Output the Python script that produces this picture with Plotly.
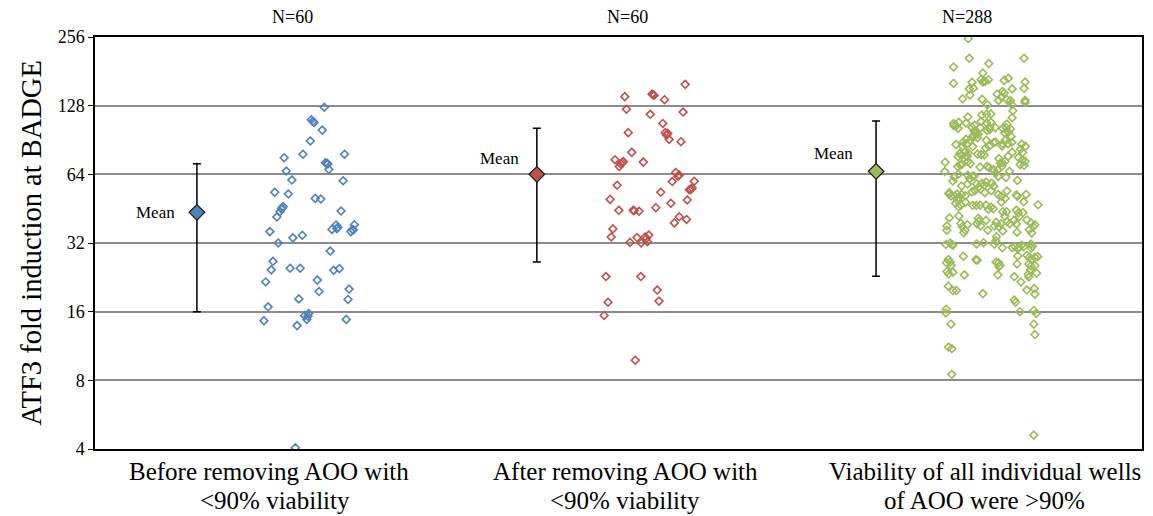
import math
import plotly.graph_objects as go

cat_line1 = ["Before removing AOO with", "After removing AOO with", "Viability of all individual wells"]
cat_line2 = ["<90% viability", "<90% viability", "of AOO were >90%"]
n_labels = ["N=60", "N=60", "N=288"]
tick_vals = [4, 8, 16, 32, 64, 128, 256]
tick_text = ["4", "8", "16", "32", "64", "128", "256"]

# means and error bar ends (fold induction)
means = [43.6, 64.0, 66.0]
upper = [71.2, 102.0, 109.6]
lower = [16.0, 26.4, 22.9]

# individual wells: jitter position within category, fold induction
g1_pos = [0.657,0.620,0.628,0.651,0.617,0.542,0.596,0.715,0.660,0.665,0.670,0.548,0.564,0.711,0.515,
          0.554,0.631,0.647,0.705,0.539,0.534,0.530,0.521,0.501,0.567,0.594,0.679,0.691,0.696,0.733,
          0.738,0.743,0.525,0.674,0.510,0.505,0.559,0.588,0.684,0.700,0.489,0.637,0.642,0.728,0.725,
          0.584,0.496,0.484,0.579,0.601,0.612,0.607,0.720,0.574,0.667,0.693,0.740,0.536,0.610,0.624]
g1_val = [126,111,108,100,89.6,75.7,78.4,78.4,72.0,71.5,67.3,66.2,60.4,60.0,53.4,
          52.5,50.2,49.9,44.2,46.2,45.1,43.9,41.6,35.9,33.7,34.6,36.7,38.4,37.5,35.9,
          36.7,38.5,32.0,29.5,26.6,24.4,24.8,24.8,24.3,24.7,21.6,22.0,19.6,20.1,18.1,
          18.2,16.8,14.6,13.9,15.4,15.7,14.8,14.8,4.05,71,37,36.5,45.5,15.3,109]

g2_pos = [0.691,0.518,0.596,0.602,0.632,0.523,0.591,0.685,0.627,0.634,0.641,0.645,0.528,0.679,0.538,
          0.490,0.514,0.507,0.502,0.571,0.664,0.670,0.717,0.654,0.496,0.711,0.703,0.621,0.476,0.697,
          0.650,0.607,0.501,0.542,0.559,0.674,0.695,0.660,0.484,0.479,0.553,0.576,0.587,0.583,0.565,
          0.533,0.464,0.564,0.611,0.470,0.616,0.459,0.548,0.599,0.638,0.510,0.674,0.707,0.580,0.545]
g2_val = [158.7,140.2,144,142,136,123.4,117.3,120,107,97.5,96.8,91.1,97.5,89,79.9,
          74.2,72.8,71,69.2,72.4,65.2,62.8,59.7,59.5,57.3,55.7,54.8,53.4,49.7,49.4,
          47.8,45.7,44.5,44.5,44.1,41.7,40.6,39.2,36.9,34,33.8,34,34.7,32.4,32,
          32.2,22.8,22.8,19.9,17.6,17.8,15.4,9.8,143,95,72,63.5,55,33.5,44.3]

g3_pos = [0.502,0.505,0.662,0.460,0.561,0.460,0.544,0.513,0.505,0.517,0.539,0.550,0.560,0.544,0.605,
          0.617,0.665,0.662,0.628,0.507,0.486,0.542,0.585,0.600,0.605,0.589,0.597,0.613,0.623,0.627,
          0.665,0.665,0.557,0.630,0.628,0.541,0.555,0.567,0.501,0.539,0.555,0.567,0.460,0.468,0.475,
          0.496,0.513,0.537,0.562,0.613,0.611,0.623,0.580,0.473,0.461,0.519,0.523,0.513,0.519,0.556,
          0.564,0.601,0.607,0.617,0.625,0.496,0.488,0.508,0.529,0.554,0.562,0.552,0.580,0.601,0.608,
          0.616,0.627,0.655,0.666,0.467,0.486,0.497,0.515,0.599,0.652,0.658,0.478,0.473,0.483,0.493,
          0.502,0.499,0.529,0.539,0.548,0.616,0.628,0.646,0.657,0.651,0.662,0.665,0.436,0.435,0.479,
          0.472,0.484,0.501,0.508,0.536,0.556,0.562,0.574,0.581,0.587,0.598,0.594,0.600,0.608,0.462,
          0.458,0.474,0.501,0.506,0.514,0.519,0.588,0.643,0.483,0.526,0.541,0.531,0.553,0.549,0.569,
          0.575,0.613,0.448,0.453,0.447,0.464,0.475,0.470,0.483,0.494,0.513,0.521,0.537,0.550,0.568,
          0.588,0.597,0.608,0.643,0.668,0.472,0.466,0.474,0.481,0.494,0.515,0.525,0.536,0.553,0.567,
          0.574,0.597,0.661,0.702,0.601,0.612,0.607,0.640,0.646,0.648,0.659,0.448,0.531,0.527,0.532,
          0.538,0.553,0.441,0.441,0.481,0.485,0.493,0.489,0.582,0.577,0.590,0.596,0.613,0.621,0.633,
          0.640,0.642,0.670,0.682,0.688,0.677,0.684,0.693,0.558,0.601,0.583,0.581,0.438,0.455,0.450,
          0.526,0.546,0.577,0.628,0.636,0.648,0.661,0.686,0.458,0.644,0.655,0.682,0.682,0.488,0.524,
          0.528,0.644,0.670,0.677,0.684,0.693,0.701,0.445,0.440,0.450,0.453,0.582,0.589,0.593,0.590,
          0.642,0.676,0.682,0.693,0.680,0.441,0.446,0.458,0.491,0.587,0.634,0.674,0.676,0.698,0.653,
          0.445,0.458,0.468,0.544,0.670,0.691,0.693,0.634,0.638,0.439,0.438,0.650,0.690,0.697,0.453,
          0.690,0.693,0.446,0.455,0.455,0.690,0.530,0.575,0.590,0.620,0.500,0.560,0.610,0.475,0.520,
          0.640,0.600,0.500]
g3_val = [252,206.6,206.6,189.2,196,160.3,178,162,151.6,152.5,166.4,163.6,166.4,162.6,165.2,
          168.7,162.6,152.5,151.6,142.6,137.3,136.4,144,147.8,145.5,135,139.8,136,134.7,129.2,
          135,132.3,129.3,121.7,113.4,116.5,117.3,117.8,114.2,109.3,107.5,108.2,106.8,104.6,108.2,
          107.5,102.8,102.5,102.8,106.4,102.5,101.2,102.5,101.8,104.6,99.2,96.5,93.3,94.6,99.7,
          100.7,101.8,97.2,97.8,93.6,91.1,88.7,90.2,92.7,90.2,84.9,83.4,88.7,87.2,90.2,
          87.2,88.4,86.7,84.9,86.4,84.9,86.7,84.7,85.2,82.4,79.9,78.9,76.5,77.5,79.9,
          79.4,76.7,78.5,78.1,77.8,76.7,79.9,76,73.9,70.6,70.1,73,72.3,65.8,70.3,
          69.2,70.8,72.8,71.3,68.9,69.4,68.5,67.1,64.8,67.1,69.2,71.7,72,73,62.3,
          59.8,64,63.4,61.3,62.7,62.9,62.7,60.2,56.9,58.2,58.4,56.1,59.2,57.3,58.6,
          56.7,54.1,53.2,51.4,52.5,51.3,50.6,52.5,52.2,51.6,53.6,54.3,55.2,53.2,54.3,
          52.2,51.3,50.2,51.3,52.2,49.2,47.8,46.1,46.9,48.3,46.8,46.8,46.9,46.9,46,
          45.2,48.4,48.5,47.1,43.9,43.9,41.9,44.6,43.3,41.7,43.5,41.3,41.1,38.9,39.8,
          38,40.2,38,36.4,39,37.7,36.4,35.5,39.4,38,37.7,38.9,39.7,38.9,40.2,
          38.8,35.7,40.4,39.2,37.7,36.6,35.4,38.5,36.4,36.1,34.1,32.7,31.5,31.5,32,
          31.7,32.1,31.6,30.6,30.8,30.6,30.8,31,31.3,30.3,31.3,31.7,30.4,28,27,
          26.9,28.1,28.3,27.7,27.1,27.7,27.9,27.1,26.2,26.4,25.5,26.4,26.2,25.5,25.2,
          25.9,25.9,25.4,25.5,24.4,24,23.4,23.8,23.2,23.2,22.8,23.3,22.7,23.6,21.6,
          20.7,19.8,19.8,19.2,19.9,20.2,19.1,18,17.6,16.4,15.8,16,16.2,15.7,14.1,
          14.1,12.7,11.2,11,8.5,4.6,96,88,75,66,58,45,62,42,105,
          52,30.5,38.5]

mean_pos = [0.292, 0.266, 0.238]
colors = ["#4F81BD", "#C0504D", "#9BBB59"]
FONT = "Liberation Serif"

fig = go.Figure()
groups = [(g1_pos, g1_val), (g2_pos, g2_val), (g3_pos, g3_val)]
for k, (pos, val) in enumerate(groups):
    fig.add_trace(go.Scatter(
        x=[k + p for p in pos], y=val, mode="markers",
        marker=dict(symbol="diamond-open", size=6, color=colors[k], line=dict(width=1.6, color=colors[k])),
        showlegend=False, hoverinfo="y"))

for k in range(3):
    fig.add_trace(go.Scatter(
        x=[k + mean_pos[k]], y=[means[k]], mode="markers",
        marker=dict(symbol="diamond", size=12, color=colors[k], line=dict(width=1.2, color="#1a1a1a")),
        error_y=dict(type="data", symmetric=False, array=[upper[k] - means[k]],
                     arrayminus=[means[k] - lower[k]], color="black", thickness=1.5, width=4),
        showlegend=False))

annotations = []
mean_label_pos = [(0.172, 43.6), (1.158, 75), (2.115, 79)]
for (x, y) in mean_label_pos:
    annotations.append(dict(x=x, y=math.log10(y), xref="x", yref="y", text="Mean", showarrow=False,
                            font=dict(family=FONT, size=17, color="black")))
n_pos = [0.567, 1.527, 2.498]
for k in range(3):
    annotations.append(dict(x=n_pos[k], y=1.0, xref="x", yref="paper", yanchor="bottom", yshift=8,
                            text=n_labels[k], showarrow=False,
                            font=dict(family=FONT, size=18, color="black")))
# category labels (two lines each)
line1_pos = [0.499, 1.519, 2.550]
line2_pos = [0.517, 1.519, 2.550]
for k in range(3):
    annotations.append(dict(x=line1_pos[k], y=0, xref="x", yref="paper", yanchor="middle", yshift=-22,
                            text=cat_line1[k], showarrow=False,
                            font=dict(family=FONT, size=25, color="black")))
    annotations.append(dict(x=line2_pos[k], y=0, xref="x", yref="paper", yanchor="middle", yshift=-51,
                            text=cat_line2[k], showarrow=False,
                            font=dict(family=FONT, size=25, color="black")))

fig.update_layout(
    width=1145, height=508,
    margin=dict(l=87, r=11, t=29, b=67),
    paper_bgcolor="white", plot_bgcolor="white",
    font=dict(family=FONT, color="black"),
    annotations=annotations,
    xaxis=dict(range=[0, 3], showgrid=False, zeroline=False, showline=True, linecolor="black",
               linewidth=1.5, mirror=True, showticklabels=False, ticks="", automargin=False),
    yaxis=dict(type="log", range=[0.60206, 2.40824], tickvals=tick_vals, ticktext=tick_text,
               showgrid=True, gridcolor="#8c8c8c", gridwidth=1.5, zeroline=False,
               showline=True, linecolor="black", linewidth=1.5, mirror=True,
               ticks="outside", ticklen=5, tickcolor="black", automargin=False,
               tickfont=dict(family=FONT, size=18, color="black"),
               title=dict(text="ATF3 fold induction at BADGE", standoff=8,
                          font=dict(family=FONT, size=28.5, color="black"))),
)

fig.write_html("out.html")
